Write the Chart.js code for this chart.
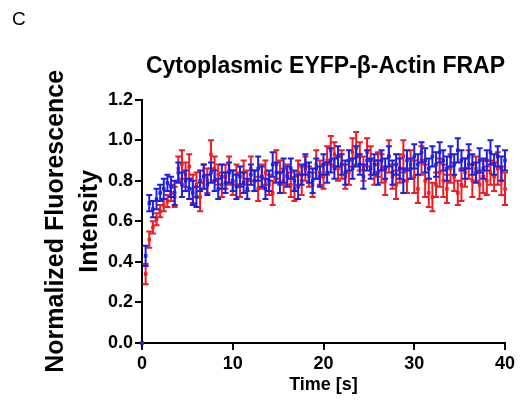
<!DOCTYPE html>
<html>
<head>
<meta charset="utf-8">
<script src="https://cdn.jsdelivr.net/npm/chart.js@4/dist/chart.umd.min.js"></script>
<style>
html,body{margin:0;padding:0;background:#fff;}
#wrap{width:522px;height:404px;position:relative;}
</style>
</head>
<body>
<div id="wrap"><canvas id="c" width="522" height="404"></canvas></div>
<script>
const panelLabel = 'C';
const chartTitle = 'Cytoplasmic EYFP-\u03B2-Actin FRAP';
const xTitle = 'Time [s]';
const yTitle = ['Normalized Fluorescence', 'Intensity'];
const xTickLabels = ['0', '10', '20', '30', '40'];
const yTickLabels = ['0.0', '0.2', '0.4', '0.6', '0.8', '1.0', '1.2'];

const times = [0,0.4,0.8,1.2,1.6,2.0,2.4,2.8,3.2,3.6,
4.0,4.4,4.8,5.2,5.6,6.0,6.4,6.8,7.2,7.6,
8.0,8.4,8.8,9.2,9.6,10.0,10.4,10.8,11.2,11.6,
12.0,12.4,12.8,13.2,13.6,14.0,14.4,14.8,15.2,15.6,
16.0,16.4,16.8,17.2,17.6,18.0,18.4,18.8,19.2,19.6,
20.0,20.4,20.8,21.2,21.6,22.0,22.4,22.8,23.2,23.6,
24.0,24.4,24.8,25.2,25.6,26.0,26.4,26.8,27.2,27.6,
28.0,28.4,28.8,29.2,29.6,30.0,30.4,30.8,31.2,31.6,
32.0,32.4,32.8,33.2,33.6,34.0,34.4,34.8,35.2,35.6,
36.0,36.4,36.8,37.2,37.6,38.0,38.4,38.8,39.2,39.6,
40.0];

const redMean = [0.00,0.34,0.51,0.57,0.61,0.65,0.68,0.70,0.74,0.72,
0.86,0.88,0.83,0.87,0.76,0.78,0.72,0.82,0.80,0.93,
0.86,0.83,0.78,0.82,0.85,0.79,0.83,0.78,0.84,0.80,
0.86,0.80,0.76,0.82,0.84,0.78,0.74,0.88,0.84,0.80,
0.83,0.78,0.76,0.84,0.80,0.86,0.82,0.78,0.88,0.84,
0.82,0.90,0.95,0.93,0.86,0.88,0.82,0.84,0.94,0.96,
0.92,0.86,0.94,0.90,0.84,0.88,0.86,0.80,0.92,0.82,
0.78,0.86,0.92,0.80,0.88,0.82,0.76,0.90,0.80,0.74,
0.72,0.78,0.84,0.80,0.76,0.86,0.82,0.74,0.78,0.84,
0.88,0.80,0.86,0.78,0.82,0.80,0.84,0.82,0.86,0.80,
0.76];
const redErr = [0.00,0.05,0.04,0.03,0.03,0.03,0.03,0.03,0.04,0.05,
0.06,0.07,0.06,0.06,0.07,0.06,0.07,0.06,0.06,0.07,
0.06,0.05,0.06,0.06,0.07,0.06,0.05,0.06,0.06,0.05,
0.06,0.05,0.06,0.06,0.06,0.05,0.06,0.07,0.06,0.06,
0.05,0.06,0.06,0.06,0.07,0.06,0.05,0.06,0.07,0.06,
0.06,0.07,0.07,0.06,0.06,0.07,0.06,0.06,0.07,0.08,
0.07,0.06,0.07,0.07,0.06,0.06,0.07,0.07,0.08,0.06,
0.07,0.07,0.08,0.06,0.07,0.08,0.07,0.07,0.08,0.07,
0.07,0.06,0.07,0.08,0.07,0.07,0.07,0.06,0.08,0.07,
0.07,0.08,0.06,0.07,0.08,0.07,0.06,0.07,0.08,0.07,
0.08];

const blueMean = [0.00,0.43,0.69,0.66,0.71,0.74,0.76,0.79,0.77,0.74,
0.84,0.78,0.80,0.76,0.74,0.72,0.80,0.82,0.78,0.84,
0.80,0.76,0.82,0.79,0.84,0.80,0.77,0.82,0.79,0.76,
0.83,0.80,0.86,0.82,0.76,0.80,0.88,0.84,0.79,0.85,
0.82,0.86,0.80,0.77,0.83,0.88,0.84,0.80,0.86,0.82,
0.88,0.84,0.90,0.86,0.92,0.88,0.84,0.90,0.86,0.92,
0.88,0.82,0.90,0.86,0.88,0.84,0.90,0.86,0.92,0.84,
0.88,0.86,0.80,0.90,0.86,0.92,0.88,0.94,0.90,0.86,
0.92,0.88,0.94,0.90,0.86,0.92,0.88,0.95,0.90,0.86,
0.92,0.88,0.84,0.90,0.86,0.90,0.94,0.88,0.92,0.86,
0.90];
const blueErr = [0.00,0.05,0.04,0.04,0.05,0.04,0.05,0.04,0.05,0.06,
0.05,0.06,0.05,0.05,0.06,0.05,0.05,0.06,0.05,0.05,
0.05,0.05,0.06,0.05,0.05,0.05,0.06,0.05,0.05,0.05,
0.05,0.05,0.06,0.05,0.05,0.05,0.06,0.05,0.05,0.06,
0.05,0.05,0.05,0.06,0.05,0.05,0.05,0.06,0.05,0.05,
0.05,0.05,0.06,0.05,0.05,0.05,0.06,0.05,0.05,0.05,
0.05,0.06,0.05,0.05,0.05,0.06,0.05,0.05,0.05,0.06,
0.05,0.05,0.06,0.05,0.05,0.06,0.05,0.05,0.06,0.05,
0.05,0.06,0.05,0.05,0.06,0.05,0.05,0.06,0.05,0.05,
0.06,0.05,0.05,0.06,0.05,0.05,0.06,0.05,0.05,0.06,
0.05];

const RED = '#ee1d23';
const BLUE = '#1f1fe0';

function pts(t, m) { return t.map((v, i) => ({x: v, y: m[i]})); }

const errorBars = {
  id: 'errorBars',
  beforeDatasetDraw(chart, args) {
    const ds = chart.data.datasets[args.index];
    if (!ds.errors) return;
    const xs = chart.scales.x, ys = chart.scales.y;
    const ctx = chart.ctx;
    ctx.save();
    ctx.strokeStyle = ds.borderColor;
    ctx.lineWidth = 2;
    ds.data.forEach((p, i) => {
      const e = ds.errors[i];
      if (!e) return;
      const px = xs.getPixelForValue(p.x);
      const y1 = ys.getPixelForValue(p.y + e);
      const y2 = ys.getPixelForValue(p.y - e);
      ctx.beginPath();
      ctx.moveTo(px, y1); ctx.lineTo(px, y2);
      ctx.moveTo(px - 3, y1); ctx.lineTo(px + 3, y1);
      ctx.moveTo(px - 3, y2); ctx.lineTo(px + 3, y2);
      ctx.stroke();
    });
    ctx.restore();
  }
};

const panelLetter = {
  id: 'panelLetter',
  afterDraw(chart) {
    const ctx = chart.ctx;
    ctx.save();
    ctx.fillStyle = '#000';
    ctx.font = '19px "Liberation Sans", Arial, sans-serif';
    ctx.textBaseline = 'middle';
    ctx.textAlign = 'left';
    ctx.fillText(panelLabel, 12, 20);
    ctx.restore();
  }
};

new Chart(document.getElementById('c'), {
  type: 'scatter',
  data: {
    datasets: [
      {label: 'blue', data: pts(times, blueMean), errors: blueErr, borderColor: BLUE, backgroundColor: BLUE,
       pointStyle: 'rect', pointRadius: 2.5, pointBorderWidth: 0, showLine: false, clip: false},
      {label: 'red', data: pts(times, redMean), errors: redErr, borderColor: RED, backgroundColor: RED,
       pointStyle: 'rect', pointRadius: 2.5, pointBorderWidth: 0, showLine: false, clip: false}
    ]
  },
  options: {
    responsive: false,
    animation: false,
    events: [],
    layout: {padding: {left: 0, right: 17, top: 0, bottom: 0}},
    plugins: {
      legend: {display: false},
      tooltip: {enabled: false},
      title: {
        display: true, text: chartTitle, color: '#000', align: 'end',
        font: {family: '"Liberation Sans", Arial, sans-serif', size: 23, weight: 'bold', lineHeight: 1.2},
        padding: {top: 53, bottom: 19}
      }
    },
    scales: {
      x: {
        type: 'linear', min: 0, max: 40,
        afterFit(s) { s.height = 61; },
        afterBuildTicks(s) { s.ticks = xTickLabels.map(v => ({value: Number(v)})); },
        ticks: {
          color: '#000', padding: 3, maxRotation: 0,
          font: {family: '"Liberation Sans", Arial, sans-serif', size: 18, weight: 'bold'},
          callback: (v, i) => xTickLabels[i]
        },
        grid: {drawOnChartArea: false, drawTicks: true, tickLength: 7, color: '#000', lineWidth: 2},
        border: {display: true, color: '#000', width: 2},
        title: {
          display: true, text: xTitle, color: '#000',
          font: {family: '"Liberation Sans", Arial, sans-serif', size: 18, weight: 'bold', lineHeight: 1.2},
          padding: {top: 0, bottom: 8}
        }
      },
      y: {
        type: 'linear', min: 0, max: 1.2,
        afterFit(s) { s.width = 142; },
        afterBuildTicks(s) { s.ticks = yTickLabels.map(v => ({value: Number(v)})); },
        ticks: {
          color: '#000', padding: 2,
          font: {family: '"Liberation Sans", Arial, sans-serif', size: 18, weight: 'bold'},
          callback: (v, i) => yTickLabels[i]
        },
        grid: {drawOnChartArea: false, drawTicks: true, tickLength: 7, color: '#000', lineWidth: 2},
        border: {display: true, color: '#000', width: 2},
        title: {
          display: true, text: yTitle, color: '#000',
          font: {family: '"Liberation Sans", Arial, sans-serif', size: 25, weight: 'bold', lineHeight: 1.36},
          padding: {top: 39, bottom: 0}
        }
      }
    }
  },
  plugins: [errorBars, panelLetter]
});
</script>
</body>
</html>
